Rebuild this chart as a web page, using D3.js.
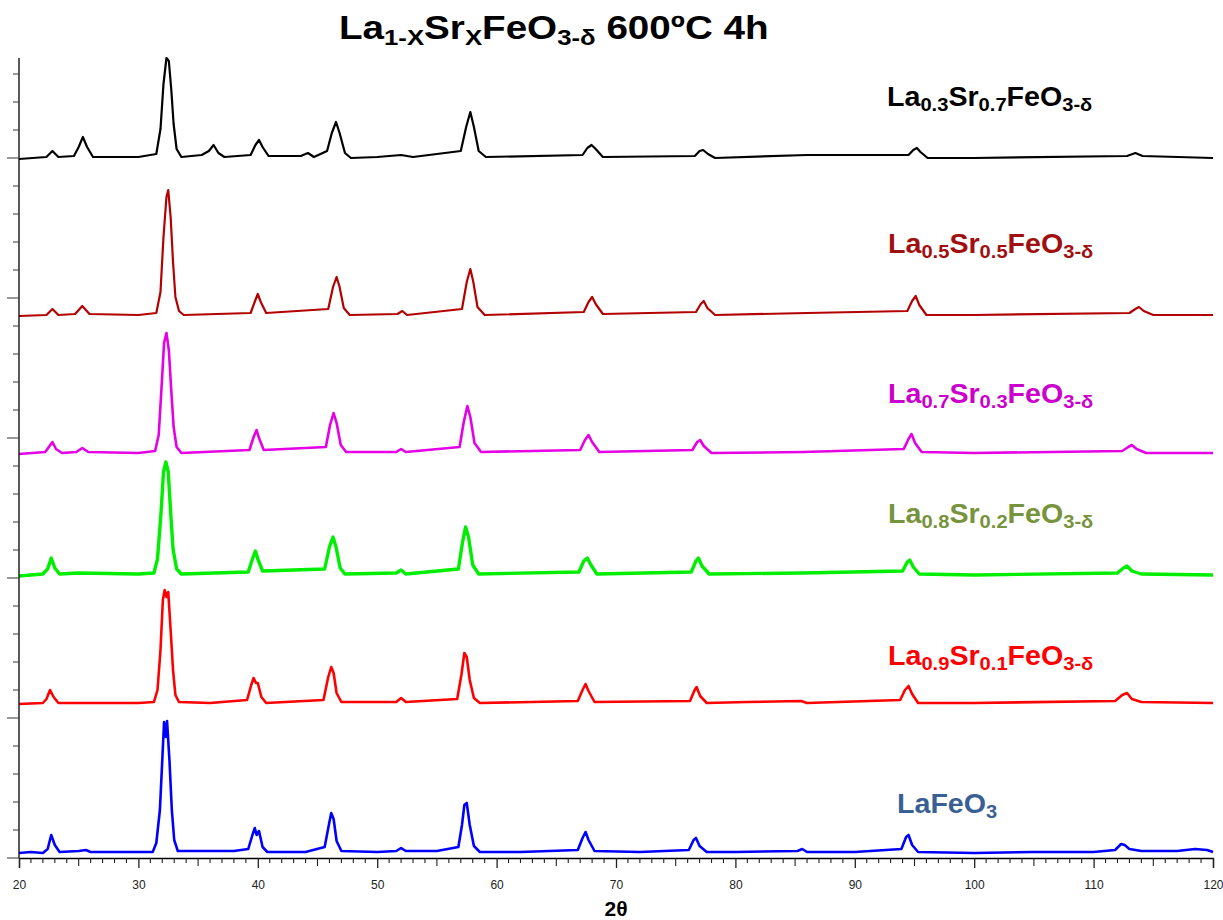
<!DOCTYPE html>
<html>
<head>
<meta charset="utf-8">
<script src="https://cdn.jsdelivr.net/npm/d3@7"></script>
<style>
  body { margin: 0; background: #fff; }
  svg { display: block; font-family: "Liberation Sans", Arial, sans-serif; }
</style>
</head>
<body>
<div id="chart"></div>
<script>
// 2-theta tick labels on the x axis
const xTickLabels = [20, 30, 40, 50, 60, 70, 80, 90, 100, 110, 120];

// patterns: [2theta, intensity above own baseline] (a.u.)
const laFeO3 = [[20,2],[21,3],[22,2],[22.4,6],[22.7,20],[23.0,10],[23.4,3],[25,4],[25.6,5],[26,3],[29,3],[31.2,3],[31.5,12],[31.8,45],[32.0,95],[32.15,133],[32.3,118],[32.4,134],[32.6,95],[32.8,45],[33.0,15],[33.3,4],[35,4],[38,4],[39.2,6],[39.55,20],[39.75,27],[39.9,20],[40.1,24],[40.4,8],[40.8,3],[44,3],[45.6,8],[45.95,30],[46.15,42],[46.35,36],[46.6,14],[47,4],[50,3],[51.6,4],[52,7],[52.4,4],[55,4],[56.8,8],[57.1,30],[57.3,50],[57.5,52],[57.75,30],[58.1,9],[58.6,3],[62,3],[66.8,5],[67.2,17],[67.45,23],[67.7,15],[68.2,4],[72,3],[76.1,5],[76.5,15],[76.7,17],[77.0,9],[77.6,3],[80,3],[85.2,4],[85.6,6],[86,3],[90,3],[93.9,6],[94.3,18],[94.5,20],[94.8,10],[95.3,3],[100,2],[105,3],[110,3],[111.8,5],[112.3,11],[112.6,10],[113,6],[114,4],[117,4],[118.5,6],[119.5,5],[120,3]];
const sr01 = [[20,1],[22,2],[22.3,6],[22.6,15],[22.9,8],[23.3,2],[26,2],[30,2],[31.3,3],[31.6,15],[31.85,55],[32.05,105],[32.2,115],[32.35,108],[32.5,113],[32.7,75],[32.9,35],[33.1,10],[33.4,3],[36,2],[39.1,5],[39.45,20],[39.65,27],[39.85,22],[40.0,22],[40.3,8],[40.7,2],[45.5,5],[45.9,28],[46.15,38],[46.35,32],[46.6,12],[47,3],[51.6,3],[52,7],[52.4,3],[56.7,6],[57.05,30],[57.3,52],[57.5,48],[57.75,25],[58.1,7],[58.6,2],[66.8,4],[67.2,15],[67.45,21],[67.7,14],[68.2,3],[76.2,4],[76.55,14],[76.75,18],[77.05,9],[77.6,2],[81,3],[85.5,4],[86,2],[93.8,5],[94.2,15],[94.5,19],[94.8,11],[95.3,2],[100,2],[111.8,4],[112.4,10],[112.8,12],[113.2,6],[114,3],[120,2]];
const sr02 = [[20,1],[22,3],[22.4,8],[22.7,19],[23.0,9],[23.4,3],[25,4],[30,3],[31.3,4],[31.6,18],[31.9,65],[32.1,105],[32.3,115],[32.5,105],[32.7,65],[32.9,28],[33.2,8],[33.6,3],[39.2,5],[39.55,18],[39.8,26],[40.0,18],[40.4,6],[45.6,8],[46.0,30],[46.3,40],[46.55,30],[46.9,9],[47.3,3],[51.6,4],[52,7],[52.4,3],[56.8,8],[57.15,35],[57.4,50],[57.65,40],[58.0,12],[58.5,3],[66.9,5],[67.3,16],[67.6,19],[67.9,12],[68.4,3],[76.3,5],[76.7,16],[76.9,19],[77.2,11],[77.8,3],[85.6,4],[94.0,6],[94.4,15],[94.6,17],[94.9,10],[95.4,3],[100,2],[112,4],[112.5,9],[112.8,11],[113.2,6],[114,3],[120,2]];
const sr03 = [[20,1],[22.2,3],[22.5,8],[22.8,13],[23.1,6],[23.6,2],[24.8,3],[25.3,7],[25.8,3],[30,2],[31.4,4],[31.7,20],[31.95,70],[32.15,112],[32.35,122],[32.55,105],[32.75,65],[32.95,28],[33.2,8],[33.6,2],[39.3,5],[39.65,18],[39.9,25],[40.1,17],[40.5,5],[45.7,8],[46.05,30],[46.35,42],[46.6,32],[46.95,10],[47.4,3],[51.6,3],[52,6],[52.4,3],[56.9,8],[57.25,33],[57.55,49],[57.8,38],[58.15,12],[58.7,3],[67,5],[67.4,15],[67.7,20],[68.0,13],[68.6,3],[76.4,5],[76.8,13],[77.05,15],[77.35,9],[78,2],[85.7,3],[94.1,6],[94.5,16],[94.75,21],[95.05,12],[95.6,3],[100,2],[112.4,4],[112.9,8],[113.2,10],[113.6,6],[114.4,2],[120,2]];
const sr05 = [[20,1],[22.3,2],[22.8,8],[23.3,2],[24.7,3],[25.3,11],[25.9,3],[30,2],[31.5,4],[31.85,25],[32.1,80],[32.35,120],[32.5,127],[32.7,100],[32.9,55],[33.1,20],[33.4,6],[33.8,2],[39.4,4],[39.8,17],[40.0,23],[40.25,15],[40.7,4],[45.9,8],[46.3,30],[46.6,40],[46.85,30],[47.2,9],[47.7,2],[51.7,3],[52.1,6],[52.5,2],[57.1,8],[57.5,35],[57.8,48],[58.05,35],[58.4,10],[59,2],[67.3,5],[67.7,15],[68.0,20],[68.3,13],[68.9,3],[76.7,5],[77.1,13],[77.35,16],[77.65,9],[78.3,2],[86,4],[94.4,6],[94.8,16],[95.1,21],[95.4,12],[96,2],[100,2],[113,4],[113.5,8],[113.8,10],[114.2,6],[115,2],[120,2]];
const sr07 = [[20,0],[22.3,2],[22.8,8],[23.3,2],[24.6,3],[25.0,12],[25.35,22],[25.7,12],[26.2,2],[30,2],[31.5,5],[31.85,30],[32.1,75],[32.35,101],[32.55,98],[32.75,70],[32.95,35],[33.2,10],[33.6,2],[35.3,4],[35.9,8],[36.3,14],[36.7,6],[37.2,2],[39.4,4],[39.8,14],[40.1,19],[40.4,12],[40.9,3],[43.6,3],[44.2,6],[44.7,2],[45.8,8],[46.2,26],[46.55,37],[46.85,26],[47.3,6],[47.8,1],[50,2],[52,4],[53,2],[57,8],[57.45,32],[57.8,47],[58.1,32],[58.5,8],[59.1,2],[67.2,4],[67.6,11],[67.95,14],[68.3,10],[68.9,2],[76.6,3],[77.0,8],[77.3,9],[77.7,5],[78.3,1],[86,4],[94.5,4],[94.9,9],[95.2,11],[95.5,7],[96.1,1],[100,1],[112.8,3],[113.5,6],[114.1,3],[120,1]];

// vertical stacking offsets (a.u.), bottom to top
const offsets = [3, 153, 281, 403, 541, 699];
const patterns = [laFeO3, sr01, sr02, sr03, sr05, sr07];
const lineColors = ["#0000ff", "#ff0000", "#00ee00", "#e600e6", "#b30000", "#000000"];
const strokeWidths = [2.6, 2.6, 3.4, 2.6, 2.2, 2.2];

// labels: [main, sub] pairs
const labels = [
  [["LaFeO", "3"]],
  [["La", "0.9"], ["Sr", "0.1"], ["FeO", "3-δ"]],
  [["La", "0.8"], ["Sr", "0.2"], ["FeO", "3-δ"]],
  [["La", "0.7"], ["Sr", "0.3"], ["FeO", "3-δ"]],
  [["La", "0.5"], ["Sr", "0.5"], ["FeO", "3-δ"]],
  [["La", "0.3"], ["Sr", "0.7"], ["FeO", "3-δ"]]
];
const labelColors = ["#3a5f94", "#ff0000", "#77933c", "#cc00cc", "#a01010", "#000000"];
const labelPos = [[897, 813], [888, 665], [888, 523], [888, 403], [888, 253], [887, 106]];

const width = 1223, height = 920;
const svg = d3.select("#chart").append("svg")
  .attr("width", width).attr("height", height);

const x = d3.scaleLinear().domain([20, 120]).range([19, 1213]);
const y = d3.scaleLinear().domain([0, 800]).range([858, 58]);

// traces
const line = d3.line().x(d => x(d[0])).y(d => d[1]);
patterns.forEach((p, i) => {
  const pts = p.map(d => [d[0], y(d[1] + offsets[i])]);
  svg.append("path")
    .attr("d", line(pts))
    .attr("fill", "none")
    .attr("stroke", lineColors[i])
    .attr("stroke-width", strokeWidths[i])
    .attr("stroke-linejoin", "round");
});

// x axis
const xAxis = svg.append("g").attr("transform", "translate(0,858)");
xAxis.call(d3.axisBottom(x).tickValues(xTickLabels).tickSize(10).tickFormat(d3.format("d")))
  .call(g => g.select(".domain").attr("stroke", "#000").attr("stroke-width", 1.3))
  .call(g => g.selectAll(".tick line").attr("stroke", "#222").attr("stroke-width", 1.3))
  .call(g => g.selectAll(".tick text").attr("font-size", 12).attr("fill", "#222").attr("dy", 18));
d3.range(20, 121, 1).filter(v => v % 10 !== 0).forEach(v => {
  xAxis.append("line")
    .attr("x1", x(v)).attr("x2", x(v))
    .attr("y1", 0).attr("y2", v % 5 === 0 ? 8 : 5)
    .attr("stroke", "#222").attr("stroke-width", 1.1);
});

// y axis
const yAxis = svg.append("g").attr("transform", "translate(19,0)");
yAxis.append("line").attr("x1", 0).attr("x2", 0).attr("y1", y(800)).attr("y2", y(0))
  .attr("stroke", "#000").attr("stroke-width", 1.3);
d3.range(0, 800, 28).forEach(v => {
  yAxis.append("line")
    .attr("x1", v % 140 === 0 ? -12 : -6).attr("x2", 0)
    .attr("y1", y(v)).attr("y2", y(v))
    .attr("stroke", "#444").attr("stroke-width", 1.1);
});

// labels
labels.forEach((parts, i) => {
  const t = svg.append("text")
    .attr("transform", `translate(${labelPos[i][0]},${labelPos[i][1]}) scale(1.06,1)`)
    .attr("font-size", 27).attr("font-weight", "bold")
    .attr("fill", labelColors[i]);
  parts.forEach(([main, sub], k) => {
    t.append("tspan").attr("font-size", 27).attr("dy", k === 0 ? 0 : -5).text(main);
    t.append("tspan").attr("font-size", 19).attr("dy", 5).text(sub);
  });
});

// title
const title = svg.append("text").attr("transform", "translate(339,39) scale(1.17,1)")
  .attr("font-size", 33).attr("font-weight", "bold").attr("fill", "#000");
title.append("tspan").text("La");
title.append("tspan").attr("font-size", 22).attr("dy", 6).text("1-X");
title.append("tspan").attr("dy", -6).text("Sr");
title.append("tspan").attr("font-size", 22).attr("dy", 6).text("X");
title.append("tspan").attr("dy", -6).text("FeO");
title.append("tspan").attr("font-size", 22).attr("dy", 6).text("3-δ");
title.append("tspan").attr("dy", -6).text(" 600ºC 4h");

// x axis title
svg.append("text").attr("x", 616).attr("y", 916)
  .attr("text-anchor", "middle").attr("font-size", 21).attr("font-weight", "bold")
  .text("2θ");
</script>
</body>
</html>
